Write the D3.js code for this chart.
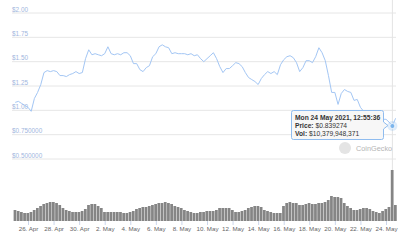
<!DOCTYPE html>
<html>
<head>
<meta charset="utf-8">
<script src="https://cdn.jsdelivr.net/npm/d3@7"></script>
<style>
  body { margin: 0; background: #fff; }
  svg { display: block; font-family: "Liberation Sans", Arial, sans-serif; }
</style>
</head>
<body>
<div id="chart"></div>
<script>
// price every 6 hours from 25 Apr 2021 00:00
const start = new Date(2021, 3, 25, 0, 0);
const prices = [
  1.082, 1.092, 1.071, 1.051, 1.031, 0.990, 1.122, 1.184, 1.265, 1.388,
  1.408, 1.398, 1.408, 1.398, 1.357, 1.357, 1.347, 1.367, 1.378, 1.398,
  1.378, 1.388, 1.531, 1.622, 1.571, 1.582, 1.571, 1.561, 1.582, 1.653,
  1.582, 1.571, 1.582, 1.571, 1.592, 1.592, 1.561, 1.480, 1.480, 1.418,
  1.398, 1.439, 1.459, 1.551, 1.582, 1.653, 1.673, 1.653, 1.643, 1.582,
  1.592, 1.582, 1.582, 1.582, 1.571, 1.582, 1.561, 1.571, 1.531, 1.500,
  1.531, 1.561, 1.592, 1.531, 1.449, 1.388, 1.429, 1.429, 1.459, 1.490,
  1.480, 1.449, 1.388, 1.337, 1.316, 1.296, 1.265, 1.327, 1.367, 1.398,
  1.378, 1.398, 1.367, 1.469, 1.520, 1.551, 1.561, 1.541, 1.490, 1.398,
  1.439, 1.510, 1.510, 1.490, 1.551, 1.643, 1.592, 1.510, 1.357, 1.184,
  1.184, 1.061, 1.173, 1.214, 1.194, 1.184, 1.102, 1.112, 1.031, 0.990,
  0.969, 0.949, 0.929, 0.908, 0.898, 0.908, 0.908, 0.878, 0.839, 0.918
];
// volume, billions of USD
const volumes = [
  6.6, 6.0, 5.4, 4.8, 4.8, 5.4, 6.6, 7.8, 9.0, 10.2,
  10.8, 11.4, 11.4, 10.8, 9.6, 7.8, 6.6, 6.0, 5.4, 5.4,
  5.4, 6.0, 7.2, 9.6, 10.2, 10.2, 9.0, 7.8, 5.4, 5.4,
  5.4, 5.4, 5.4, 5.4, 4.8, 4.8, 5.4, 6.0, 7.2, 7.8,
  8.4, 8.4, 9.0, 9.6, 10.2, 10.8, 10.8, 11.4, 10.8, 10.2,
  9.0, 8.4, 7.8, 6.6, 6.0, 5.4, 4.8, 4.8, 5.4, 5.4,
  6.0, 6.0, 6.0, 6.6, 7.8, 7.8, 7.8, 7.8, 6.6, 5.4,
  5.4, 6.0, 6.6, 7.8, 8.4, 9.0, 9.0, 8.4, 6.6, 6.0,
  5.4, 4.8, 4.8, 4.8, 9.0, 10.8, 11.4, 10.8, 10.8, 9.6,
  9.6, 10.2, 10.8, 10.2, 10.2, 10.8, 10.8, 11.4, 12.6, 15.0,
  14.4, 14.4, 13.8, 10.8, 9.0, 7.8, 6.6, 6.6, 7.2, 7.8,
  7.8, 7.2, 6.0, 5.4, 4.8, 6.0, 7.2, 8.4, 30.6, 9.6
];
const priceTicks = [2.0, 1.75, 1.5, 1.25, 1.0, 0.75, 0.5];
const priceTickLabels = ["$2.00", "$1.75", "$1.50", "$1.25", "$1.00", "$0.750000", "$0.500000"];
const hoverIndex = 118;
const tipLines = [
  ["Mon 24 May 2021, 12:55:36", ""],
  ["Price: ", "$0.839274"],
  ["Vol: ", "$10,379,948,371"]
];

const times = prices.map((p, i) => d3.timeHour.offset(start, 6 * i));

let w = 400;
let h = 240;

let svg = d3.select("#chart")
    .append("svg")
    .attr("width", w)
    .attr("height", h);

let x = d3.scaleTime()
    .domain([new Date(2021, 3, 26), new Date(2021, 4, 24)])
    .range([28, 386]);
let y = d3.scaleLinear().domain([0.5, 2]).range([159, 13]);
let yv = d3.scaleLinear().domain([0, 36]).range([221, 161]);

// grid lines + labels
svg.selectAll("line.grid")
    .data(priceTicks)
    .enter()
    .append("line")
    .attr("class", "grid")
    .attr("x1", 12).attr("x2", 396)
    .attr("y1", d => y(d)).attr("y2", d => y(d))
    .attr("stroke", "#e6e6e6")
    .attr("stroke-width", 1);

svg.selectAll("text.ylab")
    .data(priceTicks)
    .enter()
    .append("text")
    .attr("class", "ylab")
    .attr("x", 12)
    .attr("y", d => y(d) - 1.5)
    .attr("font-size", "6.4px")
    .attr("fill", "#9fb6de")
    .text((d, i) => priceTickLabels[i]);

// crosshair
svg.append("line")
    .attr("x1", x(times[hoverIndex])).attr("x2", x(times[hoverIndex]))
    .attr("y1", 0).attr("y2", 221)
    .attr("stroke", "#e3e3e3");

// volume bars
let step = x(times[1]) - x(times[0]);
svg.selectAll("rect.vol")
    .data(volumes)
    .enter()
    .append("rect")
    .attr("class", "vol")
    .attr("x", (d, i) => x(times[i]) - step / 2)
    .attr("y", d => yv(d))
    .attr("width", step - 0.45)
    .attr("height", d => yv(0) - yv(d))
    .attr("fill", "#858585");

// x axis
let tickDates = d3.timeDay.range(new Date(2021, 3, 26), new Date(2021, 4, 25), 2);
let xAxis = d3.axisBottom(x)
    .tickValues(tickDates)
    .tickFormat(d3.timeFormat("%-d. %b"))
    .tickSize(4)
    .tickPadding(2);
let gx = svg.append("g")
    .attr("transform", "translate(0,221)")
    .call(xAxis);
gx.select(".domain").remove();
gx.selectAll(".tick line").attr("stroke", "#ccd6eb");
gx.selectAll(".tick text")
    .attr("font-size", "6.2px")
    .attr("font-family", "Liberation Sans, Arial, sans-serif")
    .attr("fill", "#666");

// price line
let line = d3.line()
    .x((d, i) => x(times[i]))
    .y(d => y(d));
svg.append("path")
    .datum(prices)
    .attr("d", line)
    .attr("fill", "none")
    .attr("stroke", "#a3c6f4")
    .attr("stroke-width", 1);

// watermark
svg.append("circle")
    .attr("cx", 345).attr("cy", 148).attr("r", 6)
    .attr("fill", "#e4e4e4");
svg.append("text")
    .attr("x", 356).attr("y", 151)
    .attr("font-size", "7.3px")
    .attr("fill", "#b5b5b5")
    .text("CoinGecko");

// hover marker
let hx = x(times[hoverIndex]);
let hy = y(prices[hoverIndex]);
svg.append("circle")
    .attr("cx", hx).attr("cy", hy).attr("r", 5)
    .attr("fill", "#7cb5ec").attr("opacity", 0.25);
svg.append("circle")
    .attr("cx", hx).attr("cy", hy).attr("r", 2.5)
    .attr("fill", "#7cb5ec")
    .attr("stroke", "#fff").attr("stroke-width", 0.8);

// tooltip
let tip = svg.append("g").attr("transform", "translate(291,110)");
tip.append("path")
    .attr("d", "M0.5,2.5 Q0.5,0.5 2.5,0.5 L90.5,0.5 Q92.5,0.5 92.5,2.5 L92.5,12 L97,15.5 L92.5,19 L92.5,27.5 Q92.5,29.5 90.5,29.5 L2.5,29.5 Q0.5,29.5 0.5,27.5 Z")
    .attr("fill", "rgba(247,247,247,0.95)")
    .attr("stroke", "#8fbcef")
    .attr("stroke-width", 1);
let tt = tip.selectAll("text.tip")
    .data(tipLines)
    .enter()
    .append("text")
    .attr("x", 4)
    .attr("y", (d, i) => 10 + i * 7.8)
    .attr("font-size", "6.7px")
    .attr("fill", "#333");
tt.append("tspan").attr("font-weight", "bold").text(d => d[0]);
tt.append("tspan").text(d => d[1]);
</script>
</body>
</html>
